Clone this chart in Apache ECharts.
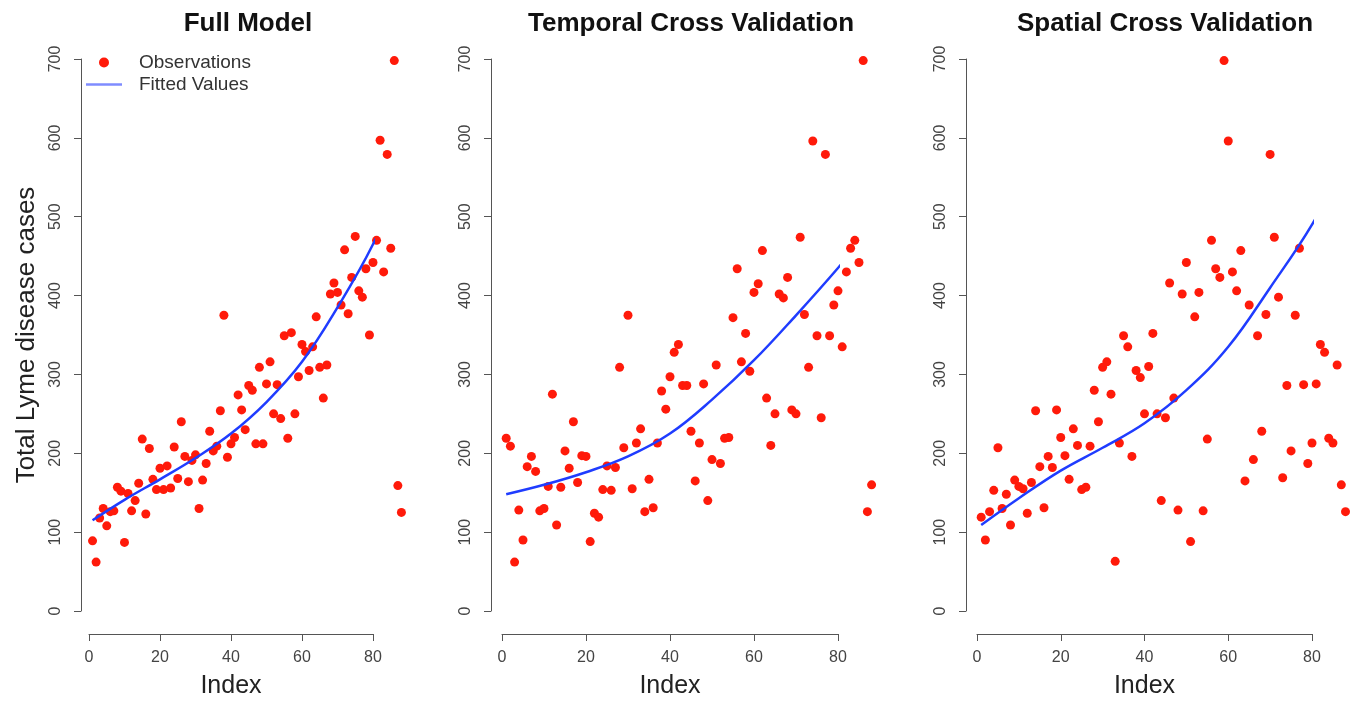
<!DOCTYPE html>
<html>
<head>
<meta charset="utf-8">
<script src="https://cdn.jsdelivr.net/npm/echarts@6/dist/echarts.min.js"></script>
<style>
  html, body { margin: 0; padding: 0; background: #fff; }
  #chart { width: 1363px; height: 704px; }
</style>
</head>
<body>
<div id="chart"></div>
<script>
let fullObs = [89, 62, 118, 130, 108, 126, 127, 157, 152, 87,
  149, 127, 140, 162, 218, 123, 206, 167, 154, 181,
  154, 184, 156, 208, 168, 240, 196, 164, 191, 198,
  130, 166, 187, 228, 203, 209, 254, 375, 195, 212,
  220, 274, 255, 230, 286, 280, 212, 309, 212, 288,
  316, 250, 287, 244, 349, 219, 353, 250, 297, 338,
  329, 305, 335, 373, 309, 270, 312, 402, 416, 404,
  388, 458, 377, 423, 475, 406, 398, 434, 350, 442,
  470, 597, 430, 579, 460, 698, 159, 125];
let temporalObs = [219, 209, 62, 128, 90, 183, 196, 177, 127, 130,
  158, 275, 109, 157, 203, 181, 240, 163, 197, 196,
  88, 124, 119, 154, 184, 153, 182, 309, 207, 375,
  155, 213, 231, 126, 167, 131, 213, 279, 256, 297,
  328, 338, 286, 286, 228, 165, 213, 288, 140, 192,
  312, 187, 219, 220, 372, 434, 316, 352, 304, 404,
  415, 457, 270, 210, 250, 402, 397, 423, 255, 250,
  474, 376, 309, 596, 349, 245, 579, 349, 388, 406,
  335, 430, 460, 470, 442, 698, 126, 160];
let spatialObs = [119, 90, 126, 153, 207, 130, 148, 109, 166, 158,
  155, 124, 163, 254, 183, 131, 196, 182, 255, 220,
  197, 167, 231, 210, 154, 157, 209, 280, 240, 309,
  316, 275, 63, 213, 349, 335, 196, 305, 296, 250,
  310, 352, 250, 140, 245, 416, 270, 128, 402, 442,
  88, 373, 404, 127, 218, 470, 434, 423, 698, 596,
  430, 406, 457, 165, 388, 192, 349, 228, 376, 579,
  474, 398, 169, 286, 203, 375, 460, 287, 187, 213,
  288, 338, 328, 219, 213, 312, 160, 126];

// fitted values read at a few indices
let fitIndex = [1, 10, 20, 30, 40, 50, 60, 70, 80, 86];
let fullFit = [115, 141, 167, 194, 225, 265, 316, 385, 465, 530];
let temporalFit = [148, 160, 176, 196, 225, 268, 318, 375, 435, 474];
let spatialFit = [109, 143, 178, 207, 238, 280, 335, 410, 490, 552];

let titles = ['Full Model', 'Temporal Cross Validation', 'Spatial Cross Validation'];
let xTicks = [0, 80, 20];
let yTicks = [0, 700, 100];

let obsList = [fullObs, temporalObs, spatialObs];
let fitList = [fullFit, temporalFit, spatialFit];

let grids = [
  { left: 89, top: 59, width: 284, height: 555 },
  { left: 502, top: 59, width: 336, height: 555 },
  { left: 977, top: 59, width: 335, height: 555 }
];
let yOffsets = [8, 11, 11];
let titleCenters = [243, 686, 1160];

let font = '"Liberation Sans", Arial, Helvetica, sans-serif';
let axisColor = '#555';
let red = '#ff1a0a';
let blue = '#1f3cff';

let toPoints = (xs, ys) => ys.map((v, i) => [xs[i], v]);
let indexOf = (arr) => arr.map((v, i) => [i + 1, v]);

let chart = echarts.init(document.getElementById('chart'), null, { renderer: 'canvas' });

let xAxes = [], yAxes = [], series = [], titleList = [];
grids.forEach((g, k) => {
  titleList.push({
    text: titles[k],
    left: titleCenters[k],
    top: 6,
    textAlign: 'center',
    textStyle: { fontFamily: font, fontWeight: 'bold', fontSize: 26, color: '#111' }
  });
  xAxes.push({
    gridIndex: k,
    type: 'value',
    min: xTicks[0], max: xTicks[1], interval: xTicks[2],
    offset: 23,
    name: 'Index',
    nameLocation: 'middle',
    nameGap: 40,
    nameTextStyle: { fontFamily: font, fontSize: 25, color: '#222' },
    axisLine: { show: true, onZero: false, lineStyle: { color: axisColor, width: 1 } },
    axisTick: { show: true, length: 7, lineStyle: { color: axisColor } },
    axisLabel: { margin: 16, fontFamily: font, fontSize: 16, color: '#444' },
    splitLine: { show: false }
  });
  yAxes.push({
    gridIndex: k,
    type: 'value',
    min: yTicks[0], max: yTicks[1], interval: yTicks[2],
    offset: yOffsets[k],
    name: k === 0 ? 'Total Lyme disease cases' : '',
    nameLocation: 'middle',
    nameGap: 41,
    nameTextStyle: { fontFamily: font, fontSize: 26, color: '#222' },
    axisLine: { show: true, onZero: false, lineStyle: { color: axisColor, width: 1 } },
    axisTick: { show: true, length: 7, lineStyle: { color: axisColor } },
    axisLabel: { rotate: 90, margin: 17, fontFamily: font, fontSize: 16, color: '#444' },
    splitLine: { show: false }
  });
  series.push({
    name: 'Observations',
    type: 'scatter',
    xAxisIndex: k, yAxisIndex: k,
    data: indexOf(obsList[k]),
    symbolSize: 9,
    clip: false,
    itemStyle: { color: red, opacity: 1 },
    z: 2
  });
  series.push({
    name: 'Fitted Values',
    type: 'line',
    xAxisIndex: k, yAxisIndex: k,
    data: toPoints(fitIndex, fitList[k]),
    smooth: 0.4,
    symbol: 'none',
    clip: false,
    lineStyle: { color: blue, width: 2.5 },
    itemStyle: { color: blue },
    z: 3
  });
});

let option = {
  animation: false,
  backgroundColor: '#fff',
  title: titleList,
  legend: {
    orient: 'vertical',
    left: 81, top: 48,
    itemWidth: 36, itemHeight: 10, itemGap: 3,
    data: [
      { name: 'Observations', icon: 'circle', itemStyle: { color: red } },
      { name: 'Fitted Values', icon: 'path://M0,0 L36,0 L36,2.4 L0,2.4 Z', itemStyle: { color: '#7f8cff' } }
    ],
    textStyle: { fontFamily: font, fontSize: 19, color: '#333', padding: [0, 0, 0, 12] }
  },
  grid: grids,
  xAxis: xAxes,
  yAxis: yAxes,
  series: series
};

option && chart.setOption(option);
</script>
</body>
</html>
